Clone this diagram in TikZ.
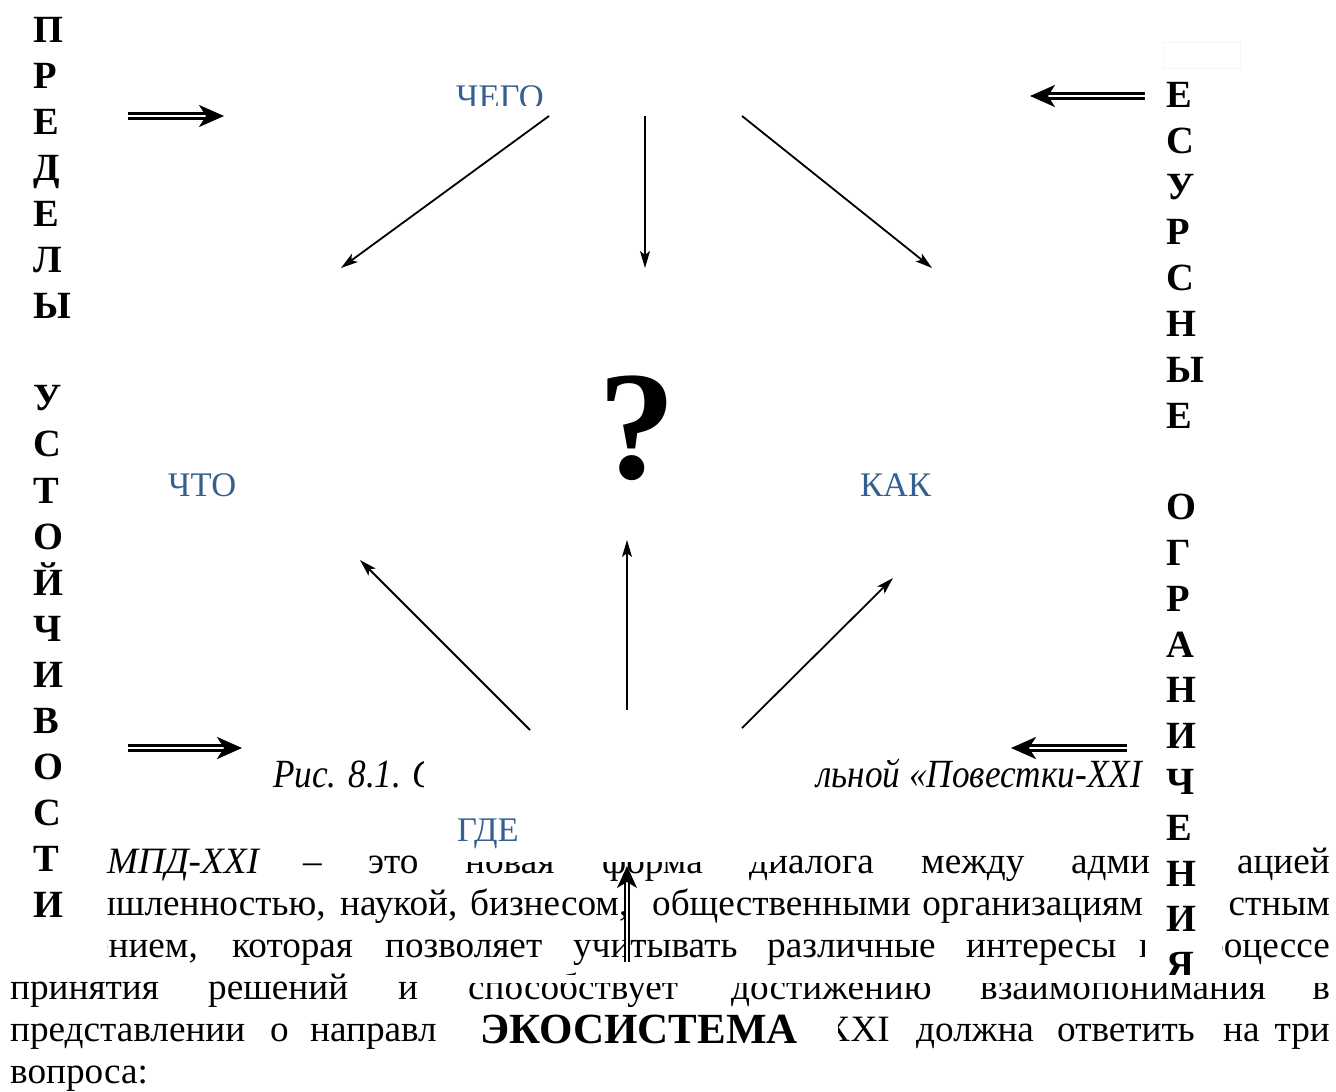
\documentclass[tikz,border=0pt]{standalone}
\usepackage{fontspec}
\setmainfont{Liberation Serif}
\newfontfamily\capfont{Liberation Serif}[FakeStretch=0.88]
\usetikzlibrary{arrows.meta}
\definecolor{qblue}{HTML}{365F91}

\begin{document}
\begin{tikzpicture}[x=1pt,y=-1pt,
    body/.style={inner sep=0pt,font=\fontsize{37.2}{42}\selectfont},
    caption/.style={inner sep=0pt,font=\fontsize{40}{42}\capfont\itshape},
    colletter/.style={inner sep=0pt,anchor=base west,font=\fontsize{38.5}{42}\selectfont\bfseries},
    question/.style={inner sep=0pt,text=qblue,anchor=base west,font=\fontsize{34.5}{40}\selectfont},
    thin/.style={line width=1.8pt,-{Stealth[length=17pt,width=10pt,inset=4pt]}},
    dbl/.style={double,double distance=2pt,line width=2.6pt,-{Stealth[length=25pt,width=22pt,inset=7pt]}},
    cover/.style={fill=white,draw=none}]
  \useasboundingbox (0,0) rectangle (1336,1092);

  % text of the page behind the figure
  \foreach \x/\w [count=\i] in {303/--, 368/это, 465/новая, 602/форма, 749/диалога, 921/между, 1071/адми}
    \node[body,anchor=base west] (ta\i) at (\x,873) {\w};
  \node[body,anchor=base west] (ta0) at (107,873) {\itshape МПД-XXI};
  \node[body,anchor=base east] (ta9) at (1330,873) {ацией};

  \foreach \x/\w [count=\i] in {340/{наукой,}, 470/{бизнесом,}, 652/общественными}
    \node[body,anchor=base west] (tb\i) at (\x,915) {\w};
  \node[body,anchor=base east] (tb5) at (1143,915) {организациям};
  \foreach \x/\w [count=\i] in {232/которая, 385/позволяет, 573/учитывать, 767/различные, 966/интересы}
    \node[body,anchor=base west] (tc\i) at (\x,957) {\w};
  \foreach \x/\w [count=\i] in {10/принятия, 208/решений, 398/и, 468/способствует, 731/достижению, 980/взаимопонимания}
    \node[body,anchor=base west] (td\i) at (\x,999) {\w};
  \node[body,anchor=base east] (td9) at (1330,999) {в};
  \foreach \x/\w [count=\i] in {10/представлении, 270/о, 310/направл, 916/должна, 1057/ответить, 1223/на}
    \node[body,anchor=base west] (te\i) at (\x,1041) {\w};
  \node[body,anchor=base east] (te9) at (1330,1041) {три};
  \node[body,anchor=base west,font=\fontsize{43}{46}\selectfont\bfseries] (eco) at (480,1043) {ЭКОСИСТЕМА};
  \node[body,anchor=base west] (tf1) at (10,1083) {вопроса:};

  % pieces cut by the boxes
  \begin{scope}
    \clip (107,880) rectangle (340,925);
    \node[body,anchor=base east] (tb0) at (326,915) {ышленностью,};
  \end{scope}
  \begin{scope}
    \clip (1222,880) rectangle (1336,970);
    \node[body,anchor=base east] (tb9) at (1330,915) {стным};
    \node[body,anchor=base east] (tc9) at (1330,957) {процессе};
  \end{scope}
  \begin{scope}
    \clip (107,925) rectangle (200,970);
    \node[body,anchor=base east] (tc0) at (198,957) {ением,};
  \end{scope}
  \begin{scope}
    \clip (1100,925) rectangle (1144,970);
    \node[body,anchor=base west] (tc8) at (1139,957) {в};
  \end{scope}
  \begin{scope}
    \clip (838,1005) rectangle (900,1055);
    \node[body,anchor=base east] (te8) at (890,1041) {XXI};
  \end{scope}
  \begin{scope}
    \clip (260,740) rectangle (423,800);
    \node[caption,anchor=base west] (cap1) at (273,787) {Рис. 8.1. С};
  \end{scope}
  \node[caption,anchor=base east] (cap2) at (1142,787) {льной «Повестки-XXI};

  % the two vertical words
  \foreach \c [count=\i from 0] in {П,Р,Е,Д,Е,Л,Ы,{},У,С,Т,О,Й,Ч,И,В,О,С,Т,И}
    \node[colletter] (lim\i) at (33,{42.5+46.05*\i}) {\c};
  \foreach \c [count=\i from 0] in {Е,С,У,Р,С,Н,Ы,Е,{},О,Г,Р,А,Н,И,Ч,Е,Н,И,Я}
    \node[colletter] (res\i) at (1166,{107.5+45.8*\i}) {\c};
  \draw[black!4,line width=0.8pt] (1163,42) rectangle (1240,68);

  % white boxes over the text
  \fill[cover] (440,845) rectangle (776,862);
  \fill[cover] (455,975) rectangle (1336,983);

  % the figure
  \node[question] (chego) at (456,108) {ЧЕГО};
  \fill[cover] (450,106) rectangle (552,113);
  \node[question] (chto) at (168,496) {ЧТО};
  \node[question] (kak) at (860,496) {КАК};
  \node[question] (gde) at (457,841) {ГДЕ};
  \node[inner sep=0pt,anchor=base,font=\fontsize{155}{160}\selectfont\bfseries] (q) at (637,478) {?};

  \coordinate (a1) at (549,116); \coordinate (b1) at (341,268);
  \coordinate (a2) at (645,116); \coordinate (b2) at (645,268);
  \coordinate (a3) at (742,116); \coordinate (b3) at (932,268);
  \coordinate (a4) at (530,730); \coordinate (b4) at (360,560);
  \coordinate (a5) at (627,710); \coordinate (b5) at (627,540);
  \coordinate (a6) at (742,728); \coordinate (b6) at (893,578);
  \foreach \k in {1,...,6}
    \draw[thin] (a\k) -- (b\k);

  \coordinate (p1) at (128,116); \coordinate (q1) at (224,116);
  \coordinate (p2) at (1145,96); \coordinate (q2) at (1030,96);
  \coordinate (p3) at (128,748); \coordinate (q3) at (242,748);
  \coordinate (p4) at (1127,748); \coordinate (q4) at (1011,748);
  \foreach \k in {1,...,4}
    \draw[dbl] (p\k) -- (q\k);
  \coordinate (up0) at (627,962); \coordinate (up1) at (627,866);
  \draw[double,double distance=2.5pt,line width=1.4pt,-{Stealth[length=22pt,width=20pt,inset=6pt]}] (up0) -- (up1);
\end{tikzpicture}
\end{document}
